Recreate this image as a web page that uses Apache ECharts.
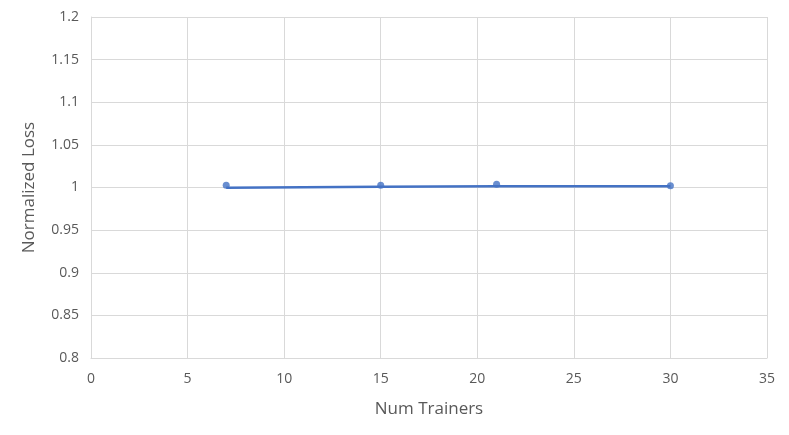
<!DOCTYPE html>
<html>
<head>
<meta charset="utf-8">
<script src="https://cdn.jsdelivr.net/npm/echarts@6/dist/echarts.min.js"></script>
<style>
  html, body { margin: 0; padding: 0; background: #fff; }
  #chart { width: 789px; height: 435px; }
</style>
</head>
<body>
<div id="chart"></div>
<script>
// data
var trainers = [7, 15, 21, 30];
var lossPoints = [1.0025, 1.0025, 1.0037, 1.0021];
var lossLine = [0.9998, 1.0008, 1.0014, 1.0015];

var blue = '#4472C4';
var grey = '#595959';

var chart = echarts.init(document.getElementById('chart'));
var option = {
    animation: false,
    grid: { left: 91, right: 22, top: 17, bottom: 77 },
    xAxis: {
        type: 'value',
        min: 0, max: 35, interval: 5,
        name: 'Num Trainers',
        nameLocation: 'middle',
        nameGap: 43,
        nameTextStyle: { color: grey, fontSize: 17, fontFamily: 'Open Sans' },
        axisLine: { lineStyle: { color: '#d9d9d9' } },
        axisTick: { show: false },
        axisLabel: { color: grey, fontSize: 14, margin: 14, fontFamily: 'Open Sans' },
        splitLine: { show: true, lineStyle: { color: '#d9d9d9' } }
    },
    yAxis: {
        type: 'value',
        min: 0.8, max: 1.2, interval: 0.05,
        name: 'Normalized Loss',
        nameLocation: 'middle',
        nameGap: 53,
        nameTextStyle: { color: grey, fontSize: 17, fontFamily: 'Open Sans' },
        axisLine: { show: true, lineStyle: { color: '#d9d9d9' } },
        axisTick: { show: false },
        axisLabel: {
            color: grey, fontSize: 14, margin: 12, fontFamily: 'Open Sans',
            formatter: function (v) { return String(parseFloat(v.toFixed(2))); }
        },
        splitLine: { show: true, lineStyle: { color: '#d9d9d9' } }
    },
    series: [
        {
            type: 'line',
            data: trainers.map(function (x, i) { return [x, lossLine[i]]; }),
            showSymbol: false,
            lineStyle: { color: blue, width: 2.5 }
        },
        {
            type: 'scatter',
            data: trainers.map(function (x, i) { return [x, lossPoints[i]]; }),
            symbolSize: 7,
            itemStyle: { color: blue }
        }
    ]
};
chart.setOption(option);
</script>
</body>
</html>
